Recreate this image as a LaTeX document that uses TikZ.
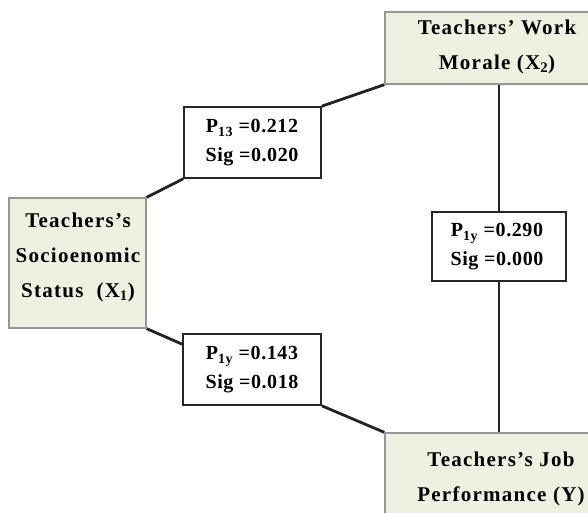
\documentclass[tikz,border=0pt]{standalone}
\usepackage{fontspec}
\setmainfont{Liberation Serif}
\newfontfamily\grfont[LetterSpace=6]{Liberation Serif}
\newfontfamily\pfont[LetterSpace=3]{Liberation Serif}
\usetikzlibrary{backgrounds}
\definecolor{boxgreen}{RGB}{238,241,226}
\definecolor{boxedge}{RGB}{150,150,150}
\definecolor{linedark}{RGB}{34,34,34}
\tikzset{
  greenbox/.style={draw=boxedge, line width=1.3pt, fill=boxgreen, inner sep=0pt},
  pbox/.style={draw=black!85, line width=1.6pt, fill=white, inner sep=0pt},
  gtext/.style={align=center, inner sep=0pt, font={\grfont\bfseries\fontsize{21pt}{35pt}\selectfont}},
  ptext/.style={align=center, inner sep=0pt, font={\pfont\bfseries\fontsize{20pt}{29pt}\selectfont}},
  conn/.style={draw=linedark, line width=2.8pt},
  vconn/.style={draw=linedark, line width=2pt}
}
\begin{document}
\begin{tikzpicture}[x=1pt,y=-1pt]
\useasboundingbox (0,0) rectangle (588,513);
\clip (0,0) rectangle (588,513);
% boxes
\node[greenbox, minimum width=228pt, minimum height=72pt] (X2) at (499,48) {};
\node[gtext] (X2t) at (497,47) {Teachers’ Work\\Morale (X\textsubscript{2})};
\node[greenbox, minimum width=137pt, minimum height=130pt] (X1) at (77.5,263) {};
\node[gtext] (X1t) at (78,257) {Teachers’s\\Socioenomic\\Status~ (X\textsubscript{1})};
\node[greenbox, minimum width=232pt, minimum height=110pt] (Y) at (501,488) {};
\node[gtext] (Yt) at (501,479) {Teachers’s Job\\Performance (Y)};
\node[pbox, minimum width=137pt, minimum height=71pt] (P13) at (252.5,142.5) {};
\node[ptext] (P13t) at (252,143) {P\textsubscript{13} =0.212\\Sig =0.020};
\node[pbox, minimum width=138pt, minimum height=71pt] (P1y) at (252,369.5) {};
\node[ptext] (P1yt) at (252,370) {P\textsubscript{1y} =0.143\\Sig =0.018};
\node[pbox, minimum width=134pt, minimum height=69pt] (P2y) at (499,246.5) {};
\node[ptext] (P2yt) at (497,247) {P\textsubscript{1y} =0.290\\Sig =0.000};
% connectors
\begin{scope}[on background layer]
\fill[white] (0,0) rectangle (588,513);
\draw[conn] (X1.north east) -- (P13.south west);
\draw[conn] (P13.north east) -- (X2.south west);
\draw[conn] (X1.south east) -- ([yshift=-11pt]P1y.north west);
\draw[conn] (P1y.south east) -- (Y.north west);
\draw[vconn] (X2.south) -- (P2y.north);
\draw[vconn] (P2y.south) -- (P2y.south |- Y.north);
\end{scope}
\end{tikzpicture}
\end{document}
